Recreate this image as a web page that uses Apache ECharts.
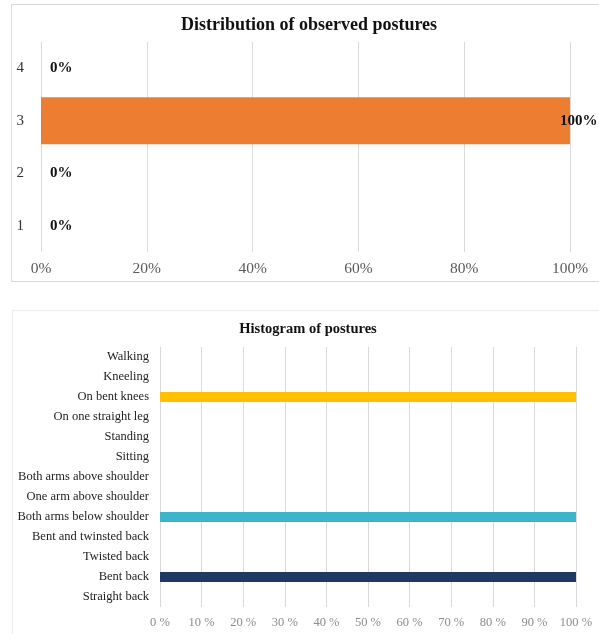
<!DOCTYPE html>
<html>
<head>
<meta charset="utf-8">
<script src="https://cdn.jsdelivr.net/npm/echarts@6/dist/echarts.min.js"></script>
<style>
html,body{margin:0;padding:0;background:#fff;}
#c{width:599px;height:634px;}
</style>
</head>
<body>
<div id="c"></div>
<script>
// Top chart data
var topCategories = ['1', '2', '3', '4'];
var topValues = [0, 0, 100, 0];
var topTicks = [0, 20, 40, 60, 80, 100];

// Bottom chart data (bottom to top)
var postureCategories = [
  'Straight back', 'Bent back', 'Twisted back', 'Bent and twinsted back',
  'Both arms below shoulder', 'One arm above shoulder', 'Both arms above shoulder',
  'Sitting', 'Standing', 'On one straight leg', 'On bent knees', 'Kneeling', 'Walking'
];
var postureValues = [0, 100, 0, 0, 100, 0, 0, 0, 0, 0, 100, 0, 0];
var postureTicks = [0, 10, 20, 30, 40, 50, 60, 70, 80, 90, 100];

// Styles
var postureColors = ['#5b9bd5', '#203864', '#a5a5a5', '#ffc000', '#3ab5ca', '#70ad47',
  '#264478', '#9e480e', '#636363', '#997300', '#ffc000', '#43682b', '#7cafdd'];
var serif = '"Liberation Serif", "Times New Roman", serif';

var chart = echarts.init(document.getElementById('c'));

var topData = topValues.map(function (v) {
  var item = { value: v };
  if (v === 100) item.label = { offset: [-19, 0] };
  return item;
});
var bottomData = postureValues.map(function (v, i) {
  return { value: v, itemStyle: { color: postureColors[i] } };
});

chart.setOption({
  animation: false,
  backgroundColor: '#fff',
  graphic: [
    { type: 'rect', shape: { x: 11.5, y: 4.5, width: 600, height: 277 },
      style: { fill: 'none', stroke: '#d9d9d9', lineWidth: 1 }, silent: true },
    { type: 'rect', shape: { x: 12.5, y: 310.5, width: 600, height: 340 },
      style: { fill: 'none', stroke: '#ececec', lineWidth: 1 }, silent: true }
  ],
  title: [
    { text: 'Distribution of observed postures', left: 304, top: 11, textAlign: 'center',
      textStyle: { fontFamily: serif, fontSize: 18, fontWeight: 'bold', color: '#111' } },
    { text: 'Histogram of postures', left: 303, top: 317, textAlign: 'center',
      textStyle: { fontFamily: serif, fontSize: 14.5, fontWeight: 'bold', color: '#111' } }
  ],
  grid: [
    { left: 41, top: 42, width: 529, height: 210, containLabel: false },
    { left: 160, top: 347, width: 416, height: 260, containLabel: false }
  ],
  xAxis: [
    { gridIndex: 0, type: 'value', min: 0, max: 100, interval: 20,
      axisLine: { show: false }, axisTick: { show: false },
      splitLine: { lineStyle: { color: '#d9d9d9' } },
      axisLabel: { formatter: '{value}%', fontFamily: serif, fontSize: 15.5, color: '#595959', margin: 9 } },
    { gridIndex: 1, type: 'value', min: 0, max: 100, interval: 10,
      axisLine: { show: false }, axisTick: { show: false },
      splitLine: { lineStyle: { color: '#d9d9d9' } },
      axisLabel: { formatter: '{value} %', fontFamily: serif, fontSize: 12.5, color: '#8c8c8c', margin: 9 } }
  ],
  yAxis: [
    { gridIndex: 0, type: 'category', data: topCategories,
      axisLine: { show: false }, axisTick: { show: false },
      axisLabel: { fontFamily: serif, fontSize: 15, color: '#333', margin: 17 } },
    { gridIndex: 1, type: 'category', data: postureCategories,
      axisLine: { show: false }, axisTick: { show: false },
      axisLabel: { fontFamily: serif, fontSize: 12.5, color: '#222', margin: 11 } }
  ],
  series: [
    { type: 'bar', xAxisIndex: 0, yAxisIndex: 0, data: topData, barWidth: 47,
      itemStyle: { color: '#ed7d31' },
      label: { show: true, position: 'right', distance: 9, formatter: '{c}%',
        fontFamily: serif, fontSize: 15, fontWeight: 'bold', color: '#111' } },
    { type: 'bar', xAxisIndex: 1, yAxisIndex: 1, data: bottomData, barWidth: 10 }
  ]
});
</script>
</body>
</html>
